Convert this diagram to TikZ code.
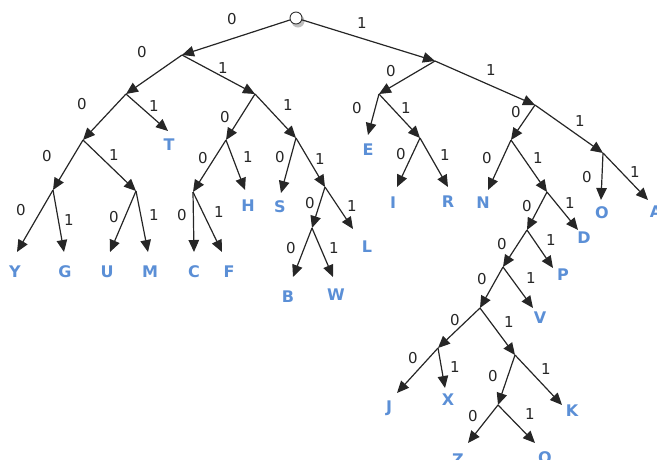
\documentclass[tikz,border=0pt]{standalone}
\usepackage{fontspec}
\setmainfont{DejaVu Sans}
\usetikzlibrary{arrows.meta}
\definecolor{leafblue}{HTML}{5B8FD6}
\tikzset{
  x=1pt, y=-1pt,
  edge/.style={draw=black!85, line width=1.2pt, -{Triangle[length=12pt,width=10.5pt]}},
  bit/.style={font=\fontsize{15}{15}\selectfont, text=black!85, inner sep=0pt},
  leaf/.style={font=\fontsize{16}{16}\selectfont\bfseries, text=leafblue, inner sep=0pt},
  rootnode/.style={circle, draw=black!80, fill=white, line width=0.9pt, minimum size=12pt, inner sep=0pt}
}
\begin{document}
\begin{tikzpicture}
\useasboundingbox (0,0) rectangle (657,459);

% root with a soft shadow
\fill[black!25] (298,21) circle (6.5pt);
\node[rootnode] (r) at (296,18) {};

% internal branching points
\coordinate (a0) at (182,55);
\coordinate (a1) at (435,61);
\coordinate (a00) at (126,94);
\coordinate (a01) at (255,94);
\coordinate (a10) at (379,94);
\coordinate (a11) at (535,105);
\coordinate (a000) at (83,140);
\coordinate (a010) at (226,140);
\coordinate (a011) at (296,138);
\coordinate (a101) at (420,138);
\coordinate (a110) at (511,140);
\coordinate (a111) at (603,153);
\coordinate (a0000) at (53,190);
\coordinate (a0001) at (136,191);
\coordinate (a0100) at (193,192);
\coordinate (a0111) at (325,187);
\coordinate (a01110) at (312,228);
\coordinate (a1101) at (547,192);
\coordinate (a11010) at (527,230);
\coordinate (a110100) at (503,267);
\coordinate (a1101000) at (480,308);
\coordinate (a11010000) at (438,348);
\coordinate (a11010001) at (515,355);
\coordinate (a110100010) at (498,405);

% arrow tips above the leaf letters
\coordinate (tT) at (168,131);
\coordinate (tE) at (368,135);
\coordinate (tY) at (17,252);
\coordinate (tG) at (64,252);
\coordinate (tU) at (110,252);
\coordinate (tM) at (148,252);
\coordinate (tH) at (245,190);
\coordinate (tC) at (194,252);
\coordinate (tF) at (222,252);
\coordinate (tS) at (281,193);
\coordinate (tB) at (293,277);
\coordinate (tW) at (333,277);
\coordinate (tL) at (353,229);
\coordinate (tI) at (397,187);
\coordinate (tR) at (448,187);
\coordinate (tN) at (488,190);
\coordinate (tO) at (601,200);
\coordinate (tA) at (648,200);
\coordinate (tD) at (578,230);
\coordinate (tP) at (553,268);
\coordinate (tV) at (533,308);
\coordinate (tJ) at (397,393);
\coordinate (tX) at (445,388);
\coordinate (tK) at (562,405);
\coordinate (tZ) at (468,443);
\coordinate (tQ) at (535,443);

% leaf letters
\node[leaf] (T) at (169,145) {T};
\node[leaf] (E) at (368,150) {E};
\node[leaf] (Y) at (15,272) {Y};
\node[leaf] (G) at (65,272) {G};
\node[leaf] (U) at (107,272) {U};
\node[leaf] (M) at (150,272) {M};
\node[leaf] (H) at (248,206) {H};
\node[leaf] (C) at (194,272) {C};
\node[leaf] (F) at (229,272) {F};
\node[leaf] (S) at (280,207) {S};
\node[leaf] (B) at (288,297) {B};
\node[leaf] (W) at (336,295) {W};
\node[leaf] (L) at (367,247) {L};
\node[leaf] (I) at (393,203) {I};
\node[leaf] (R) at (448,202) {R};
\node[leaf] (N) at (483,203) {N};
\node[leaf] (O) at (602,213) {O};
\node[leaf] (A) at (656,212) {A};
\node[leaf] (D) at (584,238) {D};
\node[leaf] (P) at (563,275) {P};
\node[leaf] (V) at (540,318) {V};
\node[leaf] (J) at (389,408) {J};
\node[leaf] (X) at (448,400) {X};
\node[leaf] (K) at (572,411) {K};
\node[leaf] (Z) at (458,460) {Z};
\node[leaf] (Q) at (545,459) {Q};

% branches
\draw[edge] (r) -- (a0);
\draw[edge] (r) -- (a1);
\draw[edge] (a0) -- (a00);
\draw[edge] (a0) -- (a01);
\draw[edge] (a1) -- (a10);
\draw[edge] (a1) -- (a11);
\draw[edge] (a00) -- (a000);
\draw[edge] (a00) -- (tT);
\draw[edge] (a01) -- (a010);
\draw[edge] (a01) -- (a011);
\draw[edge] (a10) -- (tE);
\draw[edge] (a10) -- (a101);
\draw[edge] (a11) -- (a110);
\draw[edge] (a11) -- (a111);
\draw[edge] (a000) -- (a0000);
\draw[edge] (a000) -- (a0001);
\draw[edge] (a010) -- (a0100);
\draw[edge] (a010) -- (tH);
\draw[edge] (a011) -- (tS);
\draw[edge] (a011) -- (a0111);
\draw[edge] (a101) -- (tI);
\draw[edge] (a101) -- (tR);
\draw[edge] (a110) -- (tN);
\draw[edge] (a110) -- (a1101);
\draw[edge] (a111) -- (tO);
\draw[edge] (a111) -- (tA);
\draw[edge] (a0000) -- (tY);
\draw[edge] (a0000) -- (tG);
\draw[edge] (a0001) -- (tU);
\draw[edge] (a0001) -- (tM);
\draw[edge] (a0100) -- (tC);
\draw[edge] (a0100) -- (tF);
\draw[edge] (a0111) -- (a01110);
\draw[edge] (a0111) -- (tL);
\draw[edge] (a01110) -- (tB);
\draw[edge] (a01110) -- (tW);
\draw[edge] (a1101) -- (a11010);
\draw[edge] (a1101) -- (tD);
\draw[edge] (a11010) -- (a110100);
\draw[edge] (a11010) -- (tP);
\draw[edge] (a110100) -- (a1101000);
\draw[edge] (a110100) -- (tV);
\draw[edge] (a1101000) -- (a11010000);
\draw[edge] (a1101000) -- (a11010001);
\draw[edge] (a11010000) -- (tJ);
\draw[edge] (a11010000) -- (tX);
\draw[edge] (a11010001) -- (a110100010);
\draw[edge] (a11010001) -- (tK);
\draw[edge] (a110100010) -- (tZ);
\draw[edge] (a110100010) -- (tQ);

% branch bits
\node[bit] (b1) at (232,19) {0};
\node[bit] (b2) at (362,23) {1};
\node[bit] (b3) at (142,52) {0};
\node[bit] (b4) at (223,68) {1};
\node[bit] (b5) at (391,71) {0};
\node[bit] (b6) at (491,70) {1};
\node[bit] (b7) at (82,104) {0};
\node[bit] (b8) at (154,106) {1};
\node[bit] (b9) at (225,117) {0};
\node[bit] (b10) at (288,105) {1};
\node[bit] (b11) at (357,108) {0};
\node[bit] (b12) at (406,108) {1};
\node[bit] (b13) at (516,112) {0};
\node[bit] (b14) at (580,121) {1};
\node[bit] (b15) at (47,156) {0};
\node[bit] (b16) at (114,155) {1};
\node[bit] (b17) at (203,158) {0};
\node[bit] (b18) at (248,157) {1};
\node[bit] (b19) at (280,157) {0};
\node[bit] (b20) at (320,159) {1};
\node[bit] (b21) at (401,154) {0};
\node[bit] (b22) at (445,155) {1};
\node[bit] (b23) at (487,158) {0};
\node[bit] (b24) at (538,158) {1};
\node[bit] (b25) at (587,177) {0};
\node[bit] (b26) at (635,172) {1};
\node[bit] (b27) at (21,210) {0};
\node[bit] (b28) at (69,220) {1};
\node[bit] (b29) at (114,217) {0};
\node[bit] (b30) at (154,215) {1};
\node[bit] (b31) at (182,215) {0};
\node[bit] (b32) at (219,212) {1};
\node[bit] (b33) at (310,203) {0};
\node[bit] (b34) at (352,206) {1};
\node[bit] (b35) at (291,248) {0};
\node[bit] (b36) at (334,248) {1};
\node[bit] (b37) at (527,206) {0};
\node[bit] (b38) at (570,203) {1};
\node[bit] (b39) at (502,244) {0};
\node[bit] (b40) at (551,240) {1};
\node[bit] (b41) at (482,279) {0};
\node[bit] (b42) at (531,278) {1};
\node[bit] (b43) at (455,320) {0};
\node[bit] (b44) at (509,322) {1};
\node[bit] (b45) at (413,358) {0};
\node[bit] (b46) at (455,367) {1};
\node[bit] (b47) at (493,376) {0};
\node[bit] (b48) at (546,369) {1};
\node[bit] (b49) at (473,416) {0};
\node[bit] (b50) at (530,414) {1};
\end{tikzpicture}
\end{document}
